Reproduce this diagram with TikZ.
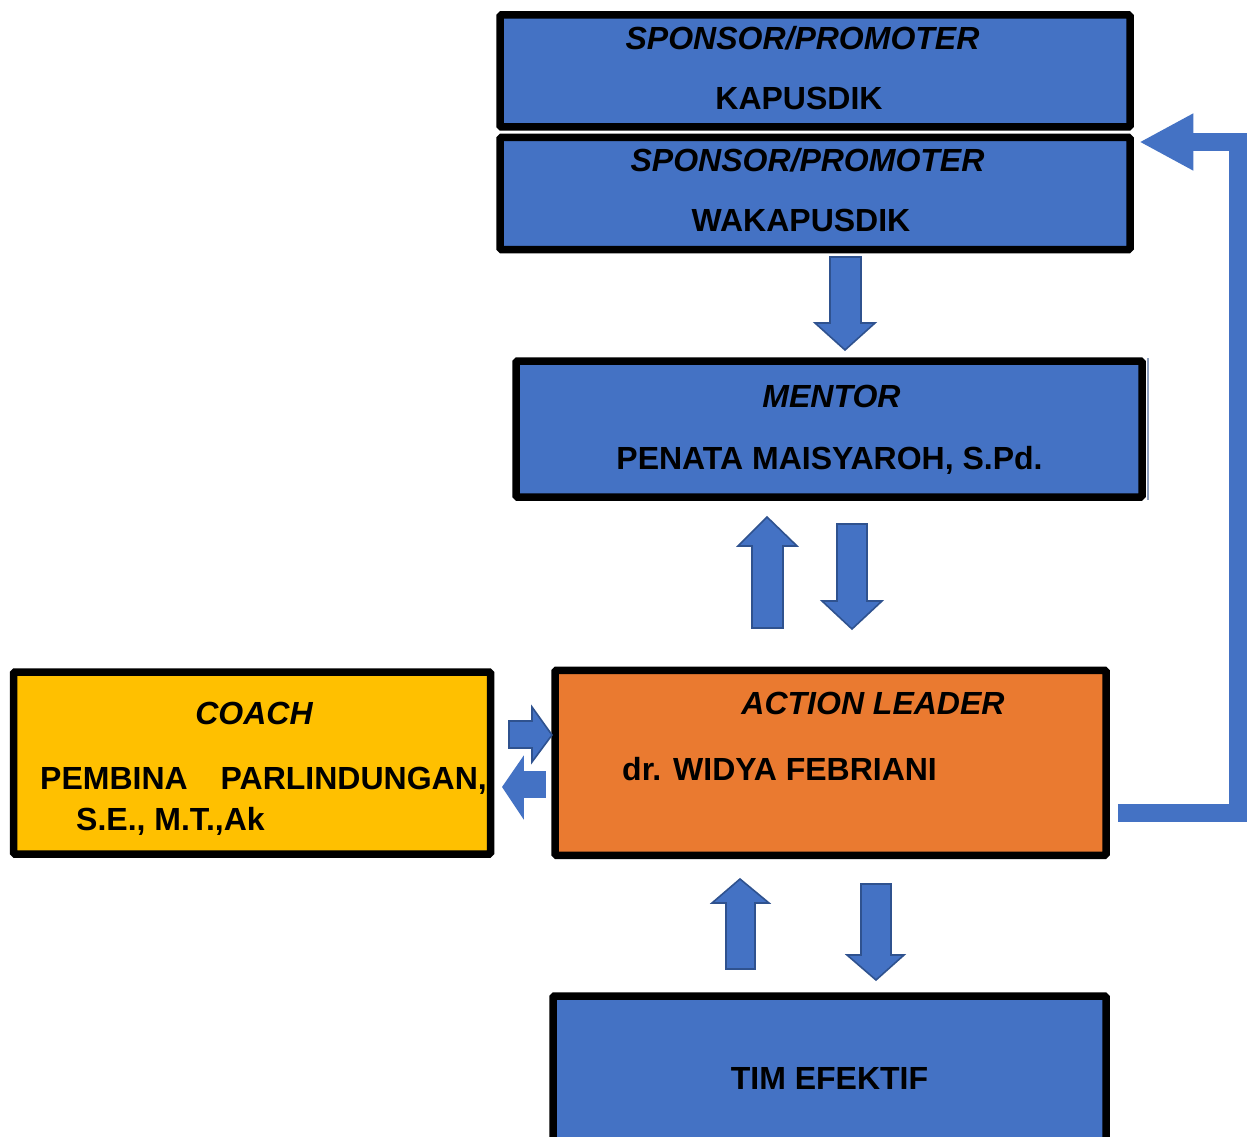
\documentclass[tikz,border=0pt]{standalone}
\usepackage{fontspec}
\setmainfont{Liberation Sans}
\usetikzlibrary{arrows.meta}
\definecolor{boxblue}{HTML}{4472C4}
\definecolor{boxorange}{HTML}{EA7A30}
\definecolor{boxyellow}{HTML}{FFC000}
\definecolor{arrowedge}{HTML}{2F528F}
\definecolor{shadowgray}{HTML}{8EA0BE}
\tikzset{
  x=1pt, y=-1pt,
  box/.style={draw=black, line width=7.5pt, rectangle, inner sep=0pt, rounded corners=1.5pt},
  txt/.style={inner sep=0pt, anchor=base, font=\fontsize{32}{38}\selectfont\bfseries, text=black},
  itxt/.style={txt, font=\fontsize{32}{38}\selectfont\bfseries\itshape},
  barrow/.style={fill=boxblue, draw=arrowedge, line width=1.6pt, line join=miter},
  conn/.style={draw=boxblue, line width=18pt, line join=miter, line cap=butt,
    -{Triangle[length=54pt,width=53pt]}},
}
\begin{document}
\begin{tikzpicture}
\useasboundingbox (0,0) rectangle (1254,1137);
\clip (0,0) rectangle (1254,1137);
\fill[white] (0,0) rectangle (1254,1137);

% boxes
\node[box, fill=boxblue, minimum width=630pt, minimum height=112pt] (kapus) at (815,71) {};
\node[box, fill=boxblue, minimum width=630pt, minimum height=112pt] (wakapus) at (815,193.5) {};
\draw[shadowgray, line width=2pt] (1148,358) -- (1148,500);
\node[box, fill=boxblue, minimum width=626pt, minimum height=136pt] (mentor) at (829,429) {};
\node[box, fill=boxyellow, minimum width=477pt, minimum height=182pt] (coach) at (252,763) {};
\node[box, fill=boxorange, minimum width=551pt, minimum height=185pt] (leader) at (830.5,762.75) {};
\node[box, fill=boxblue, minimum width=553pt, minimum height=164pt] (tim) at (829.5,1078) {};

% texts
\node[itxt] (t1a) at (802.5,50) {SPONSOR/PROMOTER};
\node[txt] (t1b) at (799,110) {KAPUSDIK};
\node[itxt] (t2a) at (807.5,172) {SPONSOR/PROMOTER};
\node[txt] (t2b) at (801,232) {WAKAPUSDIK};
\node[itxt] (t3a) at (831.5,407) {MENTOR};
\node[txt] (t3b) at (829.5,469) {PENATA MAISYAROH, S.Pd.};
\node[itxt] (t4a) at (254,724) {COACH};
\node[txt, anchor=base west] (t4b) at (40,789) {PEMBINA};
\node[txt, anchor=base east] (t4c) at (487,789) {PARLINDUNGAN,};
\node[txt, anchor=base west] (t4d) at (76,830) {S.E., M.T.,Ak};
\node[itxt] (t5a) at (873,714) {ACTION LEADER};
\node[txt, anchor=base west] (t5b) at (622,780) {dr. WIDYA FEBRIANI};
\node[txt] (t6) at (829.5,1089) {TIM EFEKTIF};

% block arrows
\draw[barrow] (830,257)--(861,257)--(861,323)--(875,323)--(845,350)--(815,323)--(830,323)--cycle;
\draw[barrow] (752,628)--(783,628)--(783,546)--(797,546)--(767,517)--(738,546)--(752,546)--cycle;
\draw[barrow] (837,524)--(867,524)--(867,601)--(882,601)--(852,629)--(822,601)--(837,601)--cycle;
\draw[barrow] (726,969)--(755,969)--(755,903)--(769,903)--(740,879)--(712,903)--(726,903)--cycle;
\draw[barrow] (861,884)--(891,884)--(891,955)--(904,955)--(876,980)--(847,955)--(861,955)--cycle;
\draw[barrow] (509,721)--(532,721)--(532,707)--(552,735)--(532,762)--(532,748)--(509,748)--cycle;
\draw[barrow, draw=boxblue] (545,772)--(523,772)--(523,758)--(503,787)--(523,817)--(523,797)--(545,797)--cycle;

% feedback connector
\coordinate (cs) at ([xshift=8pt]leader.east |- 0,813);
\coordinate (rc) at (1237.5,142);
\coordinate (ct) at ([xshift=5.5pt]wakapus.east |- 0,142);
\draw[conn] (cs) -| (rc) -- (ct);
\end{tikzpicture}
\end{document}
